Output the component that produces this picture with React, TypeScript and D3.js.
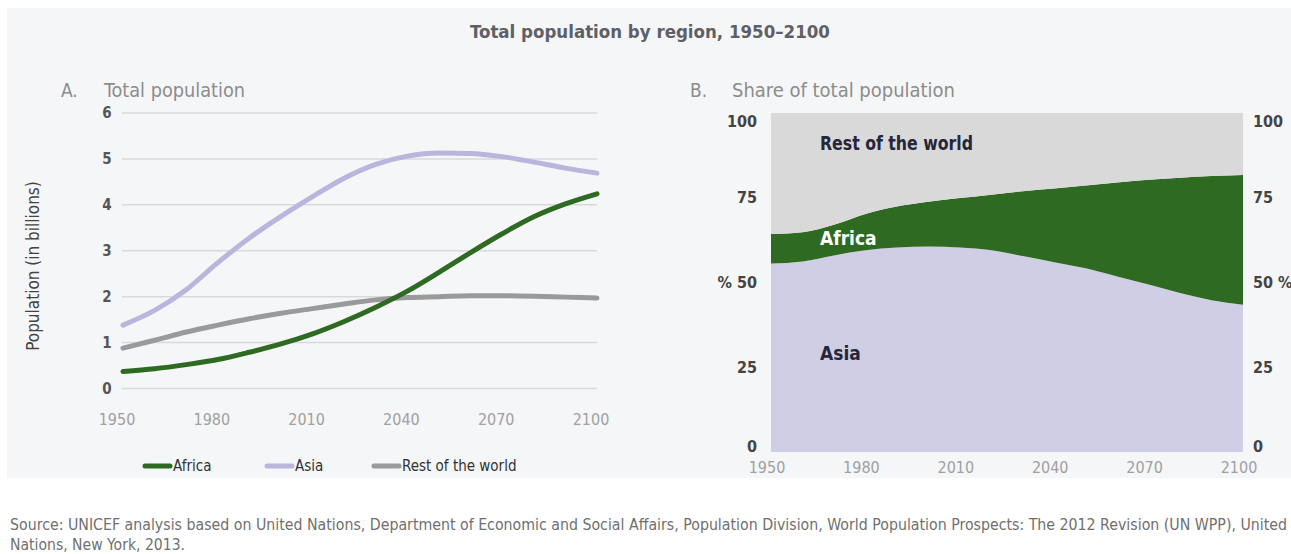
import React from 'react';
import * as d3 from 'd3';

const years = [1950, 1960, 1970, 1980, 1990, 2000, 2010, 2020, 2030, 2040, 2050, 2060, 2070, 2080, 2090, 2100];
// population in billions (panel A)
const africaPop = [0.37, 0.43, 0.52, 0.63, 0.79, 0.97, 1.19, 1.46, 1.77, 2.12, 2.53, 2.96, 3.37, 3.74, 4.02, 4.24];
const asiaPop = [1.38, 1.70, 2.15, 2.74, 3.28, 3.75, 4.18, 4.58, 4.88, 5.06, 5.13, 5.12, 5.05, 4.93, 4.80, 4.69];
const restPop = [0.88, 1.05, 1.23, 1.38, 1.52, 1.64, 1.74, 1.84, 1.93, 1.98, 2.00, 2.02, 2.02, 2.01, 1.99, 1.97];
// share of total population in % (panel B)
const asiaShare = [55.6, 56.2, 58.0, 59.5, 60.3, 60.6, 60.3, 59.5, 57.8, 56.0, 54.2, 51.8, 49.4, 46.9, 44.8, 43.4];
const africaShare = [8.7, 8.6, 9.0, 10.7, 12.1, 13.2, 14.6, 16.4, 19.1, 21.7, 24.4, 27.7, 30.9, 34.0, 36.6, 38.3];

const yearTicks = [1950, 1980, 2010, 2040, 2070, 2100];
const popTicks = [0, 1, 2, 3, 4, 5, 6];
const shareTicks = [0, 25, 50, 75, 100];

const NARROW = "'Liberation Sans Narrow', 'DejaVu Sans Condensed', 'Roboto Condensed', Roboto, sans-serif";
const GREEN = '#2e6a22';
const LAVENDER = '#b9b5dd';
const GREY = '#9a9a9a';

export default function App() {
  const xL = d3.scaleLinear().domain([1950, 2100]).range([123, 597]);
  const yL = d3.scaleLinear().domain([0, 6]).range([388.5, 113]);

  const xR = d3.scaleLinear().domain([1950, 2100]).range([771, 1243]);
  const yR = d3.scaleLinear().domain([0, 100]).range([452, 113]);

  const line = (vals: number[]) =>
    d3.line<number>()
      .x((_, i) => xL(years[i]))
      .y(d => yL(d))
      .curve(d3.curveMonotoneX)(vals) || '';

  const shareRows = years.map((y, i) => ({
    year: y,
    asia: asiaShare[i],
    africa: africaShare[i],
    rest: 100 - asiaShare[i] - africaShare[i],
  }));
  const stacked = d3.stack<any>().keys(['asia', 'africa', 'rest'])(shareRows);
  const area = d3.area<any>()
    .x(d => xR(d.data.year))
    .y0(d => yR(d[0]))
    .y1(d => yR(d[1]))
    .curve(d3.curveMonotoneX);
  const fills: Record<string, string> = { asia: '#cfcee4', africa: GREEN, rest: '#d9d9d9' };

  const legend = [
    { label: 'Africa', color: GREEN, x: 145 },
    { label: 'Asia', color: LAVENDER, x: 267 },
    { label: 'Rest of the world', color: GREY, x: 374 },
  ];

  return (
    <svg width={1291} height={554} style={{ position: 'absolute', left: 0, top: 0 }}>
      <rect x={0} y={0} width={1291} height={554} fill="#ffffff" />
      <rect x={7} y={8} width={1284} height={470} fill="#f5f6f8" />

      <text x={650} y={31} textAnchor="middle" dominantBaseline="central"
        fontFamily={NARROW} fontWeight="bold" fontSize={18.5} fill="#5e6066">
        Total population by region, 1950–2100
      </text>

      {/* panel A */}
      <text x={61} y={90} dominantBaseline="central" fontFamily={NARROW} fontSize={19} fill="#8c8c8c">A.</text>
      <text x={104} y={90} dominantBaseline="central" fontFamily={NARROW} fontSize={19} fill="#8c8c8c"
        textLength={141} lengthAdjust="spacingAndGlyphs">Total population</text>

      {popTicks.map(t => (
        <g key={t}>
          <line x1={122} x2={597} y1={yL(t)} y2={yL(t)} stroke="#d8d9dc" strokeWidth={1.5} />
          <text x={107} y={yL(t)} textAnchor="middle" dominantBaseline="central"
            fontFamily={NARROW} fontWeight="bold" fontSize={15} fill="#555">{t}</text>
        </g>
      ))}
      {yearTicks.map(t => (
        <text key={t} x={xL(t) - 6} y={419} textAnchor="middle" dominantBaseline="central"
          fontFamily={NARROW} fontSize={16} fill="#a0a0a0">{t}</text>
      ))}
      <text transform="translate(33,266) rotate(-90)" textAnchor="middle" dominantBaseline="central"
        fontFamily={NARROW} fontSize={17} fill="#444">Population (in billions)</text>

      <path d={line(restPop)} fill="none" stroke={GREY} strokeWidth={5} strokeLinecap="round" />
      <path d={line(asiaPop)} fill="none" stroke={LAVENDER} strokeWidth={5} strokeLinecap="round" />
      <path d={line(africaPop)} fill="none" stroke={GREEN} strokeWidth={5} strokeLinecap="round" />

      {legend.map(l => (
        <g key={l.label}>
          <line x1={l.x} x2={l.x + 25} y1={466} y2={466} stroke={l.color} strokeWidth={5} strokeLinecap="round" />
          <text x={l.x + 28} y={466} dominantBaseline="central" fontFamily={NARROW} fontSize={15} fill="#333">{l.label}</text>
        </g>
      ))}

      {/* panel B */}
      <text x={690} y={90} dominantBaseline="central" fontFamily={NARROW} fontSize={19} fill="#8c8c8c">B.</text>
      <text x={732} y={90} dominantBaseline="central" fontFamily={NARROW} fontSize={19} fill="#8c8c8c"
        textLength={223} lengthAdjust="spacingAndGlyphs">Share of total population</text>

      {stacked.map(s => (
        <path key={s.key} d={area(s) || ''} fill={fills[s.key]} />
      ))}

      {shareTicks.map(t => {
        const dy = t === 100 ? 8 : t === 0 ? -6 : 0;
        return (
          <g key={t}>
            <text x={757} y={yR(t) + dy} textAnchor="end" dominantBaseline="central"
              fontFamily={NARROW} fontWeight="bold" fontSize={16} fill="#444">{t === 50 ? '% 50' : t}</text>
            <text x={1253} y={yR(t) + dy} dominantBaseline="central"
              fontFamily={NARROW} fontWeight="bold" fontSize={16} fill="#444">{t === 50 ? '50 %' : t}</text>
          </g>
        );
      })}
      {yearTicks.map(t => (
        <text key={t} x={xR(t) - 4} y={467} textAnchor="middle" dominantBaseline="central"
          fontFamily={NARROW} fontSize={16} fill="#a0a0a0">{t}</text>
      ))}

      <text x={820} y={143} dominantBaseline="central" fontFamily={NARROW} fontWeight="bold" fontSize={19} fill="#25263a"
        textLength={153} lengthAdjust="spacingAndGlyphs">Rest of the world</text>
      <text x={820} y={238} dominantBaseline="central" fontFamily={NARROW} fontWeight="bold" fontSize={19} fill="#ffffff">Africa</text>
      <text x={820} y={353} dominantBaseline="central" fontFamily={NARROW} fontWeight="bold" fontSize={19} fill="#25263a">Asia</text>

      <text x={10} y={525} dominantBaseline="central" fontFamily={NARROW} fontSize={15} fill="#707070"
        textLength={1277} lengthAdjust="spacingAndGlyphs">
        Source: UNICEF analysis based on United Nations, Department of Economic and Social Affairs, Population Division, World Population Prospects: The 2012 Revision (UN WPP), United
      </text>
      <text x={10} y={545} dominantBaseline="central" fontFamily={NARROW} fontSize={15} fill="#707070"
        textLength={175} lengthAdjust="spacingAndGlyphs">
        Nations, New York, 2013.
      </text>
    </svg>
  );
}
